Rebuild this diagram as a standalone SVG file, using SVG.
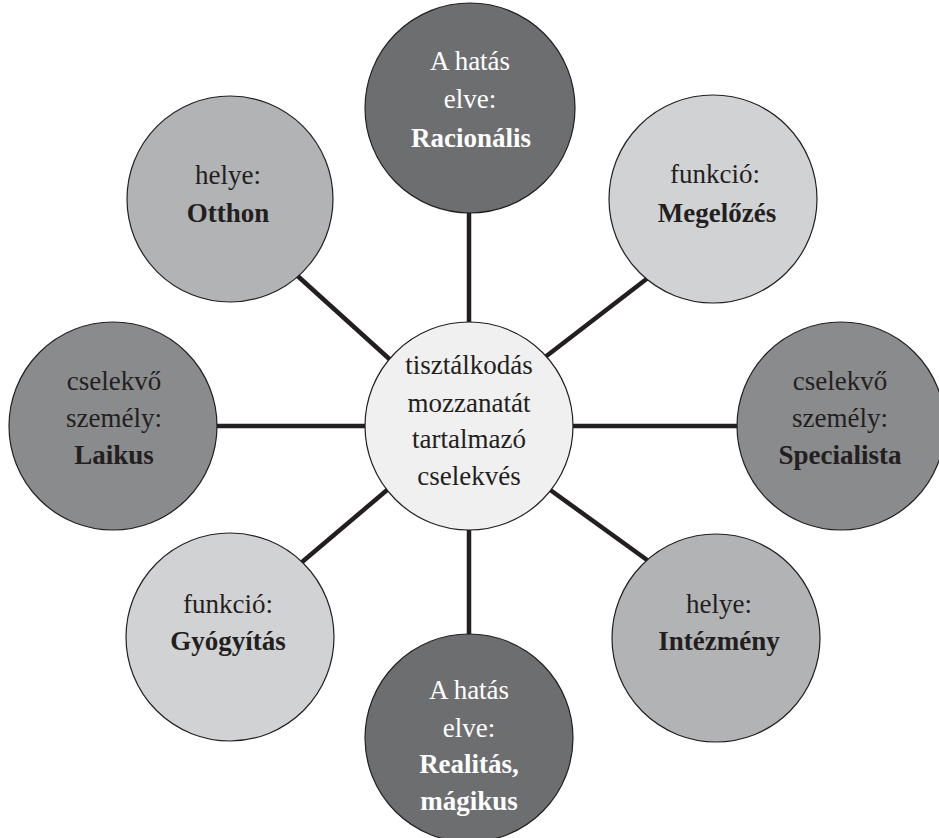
<svg xmlns="http://www.w3.org/2000/svg" width="939" height="838" viewBox="0 0 939 838">
<style>
  .c { stroke: #231f20; stroke-width: 1.2; }
  .dark { fill: #6d6e70; }
  .mdark { fill: #8a8b8d; }
  .mid { fill: #b1b3b5; }
  .light { fill: #d1d2d4; }
  .center { fill: #f0f0f0; }
  .t { font-family: "Liberation Serif", "DejaVu Serif", serif; font-size: 27px; text-anchor: middle; fill: #231f20; }
  .w { fill: #ffffff; }
  .b { font-weight: bold; }
  .conn line { stroke: #231f20; stroke-width: 4.5; }
</style>
<rect width="939" height="838" fill="#ffffff"/>
<g id="connectors" class="conn">
  <line x1="469" y1="200" x2="469" y2="335"/>
  <line x1="469" y1="520" x2="469" y2="645"/>
  <line x1="200" y1="426" x2="380" y2="426"/>
  <line x1="560" y1="426" x2="750" y2="426"/>
  <line x1="291" y1="270" x2="396" y2="365"/>
  <line x1="653" y1="274" x2="540" y2="361"/>
  <line x1="542" y1="484" x2="654" y2="565"/>
  <line x1="393" y1="485" x2="295" y2="568"/>
</g>
<g id="center">
  <circle class="c center" cx="469" cy="426" r="104"/>
  <text class="t" x="469" y="374">tisztálkodás</text>
  <text class="t" x="469" y="412">mozzanatát</text>
  <text class="t" x="469" y="448">tartalmazó</text>
  <text class="t" x="469" y="485">cselekvés</text>
</g>
<g id="n-racionalis">
  <circle class="c dark" cx="470" cy="108" r="105"/>
  <text class="t w" x="470" y="70">A hatás</text>
  <text class="t w" x="470" y="108">elve:</text>
  <text class="t w b" x="471" y="147">Racionális</text>
</g>
<g id="n-megelozes">
  <circle class="c light" cx="713" cy="199" r="104"/>
  <text class="t" x="715" y="183">funkció:</text>
  <text class="t b" x="717" y="222">Megelőzés</text>
</g>
<g id="n-specialista">
  <circle class="c mdark" cx="841" cy="426" r="104"/>
  <text class="t" x="840" y="390">cselekvő</text>
  <text class="t" x="840" y="427">személy:</text>
  <text class="t b" x="840" y="464">Specialista</text>
</g>
<g id="n-intezmeny">
  <circle class="c mid" cx="716" cy="638" r="104"/>
  <text class="t" x="719" y="613">helye:</text>
  <text class="t b" x="719" y="650">Intézmény</text>
</g>
<g id="n-realitas">
  <circle class="c dark" cx="469" cy="738" r="104"/>
  <text class="t w" x="469" y="699">A hatás</text>
  <text class="t w" x="469" y="737">elve:</text>
  <text class="t w b" x="469" y="773">Realitás,</text>
  <text class="t w b" x="469" y="810">mágikus</text>
</g>
<g id="n-gyogyitas">
  <circle class="c light" cx="230" cy="637" r="104"/>
  <text class="t" x="228" y="613">funkció:</text>
  <text class="t b" x="228" y="650">Gyógyítás</text>
</g>
<g id="n-laikus">
  <circle class="c mdark" cx="113" cy="426" r="104"/>
  <text class="t" x="114" y="390">cselekvő</text>
  <text class="t" x="114" y="427">személy:</text>
  <text class="t b" x="114" y="464">Laikus</text>
</g>
<g id="n-otthon">
  <circle class="c mid" cx="230" cy="199" r="103"/>
  <text class="t" x="228" y="184">helye:</text>
  <text class="t b" x="228" y="222">Otthon</text>
</g>
</svg>
